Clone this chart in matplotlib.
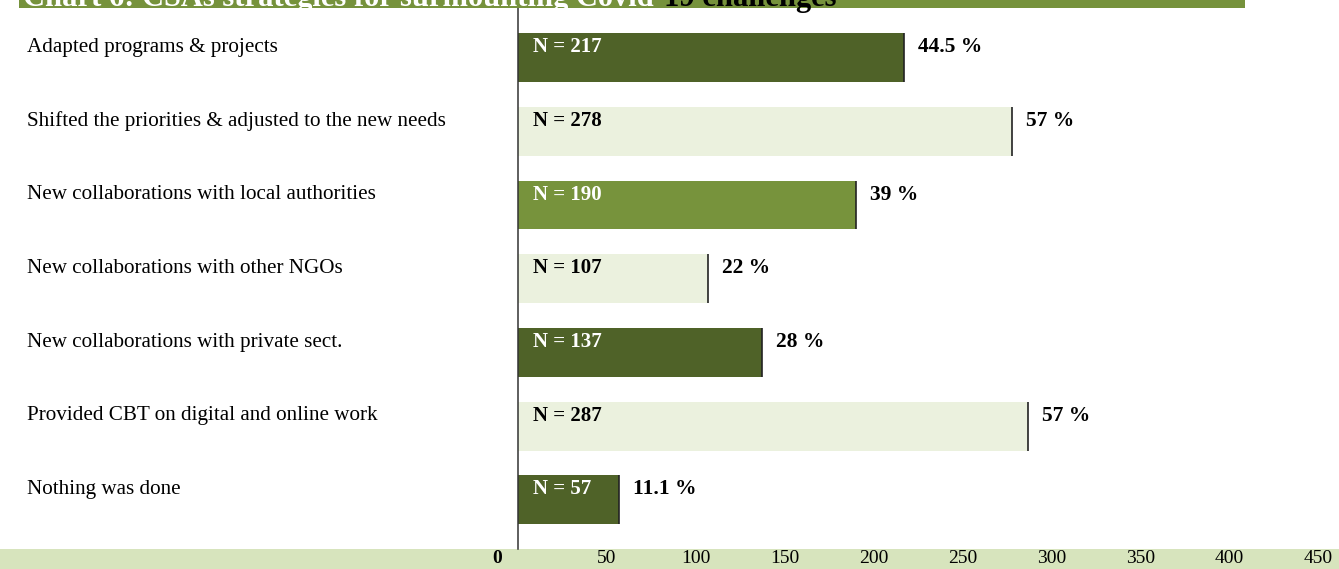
import matplotlib
matplotlib.use("Agg")
import matplotlib.pyplot as plt
from matplotlib import transforms
from matplotlib.patches import Rectangle

plt.rcParams["font.family"] = ["Liberation Serif", "DejaVu Serif"]

# Data
categories = [
    "Adapted programs & projects",
    "Shifted the priorities & adjusted to the new needs",
    "New collaborations with local authorities",
    "New collaborations with other NGOs",
    "New collaborations with private sect.",
    "Provided CBT on digital and online work",
    "Nothing was done",
]
counts = [217, 278, 190, 107, 137, 287, 57]
percents = ["44.5 %", "57 %", "39 %", "22 %", "28 %", "57 %", "11.1 %"]
tick_values = [0, 50, 100, 150, 200, 250, 300, 350, 400, 450]

DARK = "#4F6228"
MID = "#77933C"
LIGHT = "#EBF1DE"
BAND = "#D7E4BD"
TITLE_BAND = "#76923C"
bar_colors = [DARK, LIGHT, MID, LIGHT, DARK, LIGHT, DARK]
n_text_colors = ["white", "black", "white", "black", "white", "black", "white"]

W, H = 1339, 569
fig = plt.figure(figsize=(W / 100, H / 100), dpi=100)
fig.patch.set_facecolor("white")

# Tick band along the bottom (behind the axes)
fig.patches.append(Rectangle((0, 0), 1, 20 / H, transform=fig.transFigure,
                             facecolor=BAND, edgecolor="none", zorder=-1))

ax_left, ax_bottom, ax_right, ax_top = 518, 20, 1336, 569
ax = fig.add_axes([ax_left / W, ax_bottom / H, (ax_right - ax_left) / W, (ax_top - ax_bottom) / H])
ax.set_facecolor("none")

ypos = list(range(len(categories)))
bar_h = 0.664
ax.barh(ypos, counts, height=bar_h, color=bar_colors, edgecolor="none", zorder=2)
ax.vlines(counts, [y - bar_h / 2 for y in ypos], [y + bar_h / 2 for y in ypos],
          color="#222222", lw=1.2, zorder=3)

ax.set_xlim(0, 460)
ax.set_ylim(6.665, -0.78)

for s in ["top", "right", "bottom"]:
    ax.spines[s].set_visible(False)
ax.spines["left"].set_color("#333333")
ax.spines["left"].set_linewidth(1.1)
ax.set_yticks([])

ax.set_xticks(tick_values)
ax.set_xticklabels([str(v) for v in tick_values])
ax.tick_params(axis="x", length=0, pad=1, labelsize=14, labelcolor="black")
zero_lbl = ax.get_xticklabels()[0]
zero_lbl.set_fontweight("bold")
zero_lbl.set_transform(zero_lbl.get_transform()
                       + transforms.ScaledTranslation(-21 / 100, 0, fig.dpi_scale_trans))

text_dy = -0.142
for y, n, pct, tc in zip(ypos, counts, percents, n_text_colors):
    ax.annotate(f"N = {n}", (0, y + text_dy), xytext=(11, 0), textcoords="offset points",
                ha="left", va="center", fontsize=15, fontweight="bold", color=tc, zorder=4)
    ax.annotate(pct, (n, y + text_dy), xytext=(10, 0), textcoords="offset points",
                ha="left", va="center", fontsize=15.5, fontweight="bold", color="black", zorder=4)

label_tr = transforms.blended_transform_factory(fig.transFigure, ax.transData)
for y, cat in zip(ypos, categories):
    fig.text(27 / W, y + text_dy, cat, transform=label_tr, ha="left", va="center",
             fontsize=15.2, color="black")

# Title band at the top
fig.patches.append(Rectangle((19 / W, 1 - 8 / H), (1245 - 19) / W, 8 / H,
                             transform=fig.transFigure, facecolor=TITLE_BAND,
                             edgecolor="none", zorder=5))

t1 = fig.text(23 / W, 1 - 6 / H, "Chart 6: CSAs strategies for surmounting Covid-",
              ha="left", va="baseline", fontsize=22, fontweight="bold", color="white", zorder=6)
fig.canvas.draw()
bb = t1.get_window_extent(renderer=fig.canvas.get_renderer())
fig.text(bb.x1 / W, 1 - 6 / H, "19 challenges", ha="left", va="baseline",
         fontsize=22, fontweight="bold", color="black", zorder=6)

fig.savefig("out.png", dpi=100, facecolor="white")
